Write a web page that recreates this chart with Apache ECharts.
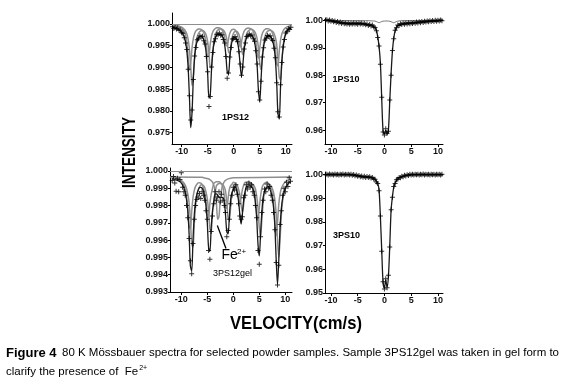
<!DOCTYPE html>
<html><head><meta charset="utf-8">
<script src="https://cdn.jsdelivr.net/npm/echarts@6/dist/echarts.min.js"></script>
<style>html,body{margin:0;padding:0;background:#fff;}#c{width:565px;height:388px;}</style>
</head><body><div id="c"></div>
<script>
// ---- data (velocity in cm/s as labelled, intensity relative) ----
const velocity = [-11.75,-11.5,-11.25,-11,-10.75,-10.5,-10.25,-10,-9.75,-9.5,-9.25,-9,-8.75,-8.5,-8.25,-8,-7.75,-7.5,-7.25,-7,-6.75,-6.5,-6.25,-6,-5.75,-5.5,-5.25,-5,-4.75,-4.5,-4.25,-4,-3.75,-3.5,-3.25,-3,-2.75,-2.5,-2.25,-2,-1.75,-1.5,-1.25,-1,-0.75,-0.5,-0.25,0,0.25,0.5,0.75,1,1.25,1.5,1.75,2,2.25,2.5,2.75,3,3.25,3.5,3.75,4,4.25,4.5,4.75,5,5.25,5.5,5.75,6,6.25,6.5,6.75,7,7.25,7.5,7.75,8,8.25,8.5,8.75,9,9.25,9.5,9.75,10,10.25,10.5,10.75,11];

const data1PS12 = [.99935,.99895,.9992,.9988,.99905,.99855,.9986,.99795,.99785,.9968,
 .9956,.9941,.9896,.9835,.9779,.9802,.9872,.9926,.9946,.99635,
 .9966,.9973,.997,.99715,.9961,.9954,.9925,.989,.981,.9833,
 .9901,.9934,.9959,.9966,.9976,.9975,.9979,.9974,.9975,.9964,
 .9956,.9925,.9875,.9887,.9924,.9946,.9965,.9966,.9971,.9964,
 .9959,.9936,.9908,.9882,.9901,.9942,.9956,.9971,.9972,.9977,
 .9973,.99745,.9966,.996,.9938,.9908,.9844,.9825,.9868,.9924,
 .9945,.9963,.9967,.99735,.9971,.9973,.99655,.9962,.9944,.9922,
 .9865,.9798,.9786,.986,.9911,.9947,.9964,.9979,.9982,.9989,
 .9987,.9992];
const fit1PS12 = [.9992,.99913,.99905,.99895,.99884,.99867,.99844,.99813,.99767,.99697,
 .99583,.9938,.99,.98313,.97614,.97968,.9875,.99233,.99481,.9961,
 .99678,.9971,.99714,.99694,.99635,.9952,.9929,.98849,.98294,.98383,
 .98964,.99362,.9957,.99681,.99741,.9977,.99772,.99762,.99731,.99666,
 .99536,.9928,.98906,.98845,.99205,.99485,.99626,.9968,.99691,.99661,
 .99572,.99383,.99042,.98786,.99046,.99392,.99588,.99687,.99735,.99754,
 .99752,.99728,.99679,.99583,.99401,.99049,.98479,.98218,.98718,.99209,
 .99477,.99614,.99684,.99718,.99726,.99714,.99675,.99601,.99462,.99197,
 .98685,.9794,.97827,.98556,.99138,.99451,.9966,.9977,.9984,.9987,
 .9989,.999];
const subA1PS12 = [.9997,.9997,.99966,.99961,.99955,.99948,.99938,.99924,.99906,.99878,
 .99836,.99768,.99646,.99418,.99006,.98586,.98799,.99268,.99558,.99707,
 .99784,.99825,.99844,.99846,.99834,.99799,.9973,.99592,.99327,.98994,
 .99048,.99396,.99635,.9976,.99827,.99863,.9988,.99881,.99875,.99857,
 .99818,.9974,.99586,.99362,.99325,.99541,.99709,.99794,.99826,.99833,
 .99815,.99761,.99648,.99443,.9929,.99446,.99653,.99771,.9983,.99859,
 .9987,.99869,.99855,.99825,.99768,.99659,.99447,.99105,.98949,.99249,
 .99543,.99704,.99786,.99828,.99849,.99854,.99846,.99823,.99779,.99695,
 .99536,.99229,.98782,.98714,.99152,.99501,.99689,.99789,.99848,.99884,
 .99908,.99924];
const subB1PS12 = [.99974,.99971,.99966,.99961,.99954,.99943,.99929,.99909,.99877,.99826,
 .99735,.99563,.99254,.9894,.99099,.99451,.99668,.9978,.99838,.99869,
 .99883,.99885,.99876,.99849,.99798,.99694,.99496,.99246,.99286,.99547,
 .99726,.9982,.9987,.99897,.9991,.99911,.99906,.99892,.99863,.99805,
 .9969,.99521,.99494,.99656,.99782,.99845,.9987,.99874,.99861,.99821,
 .99736,.99582,.99467,.99584,.9974,.99828,.99873,.99894,.99903,.99902,
 .99891,.99869,.99826,.99744,.99586,.99329,.99212,.99437,.99658,.99778,
 .9984,.99871,.99887,.9989,.99885,.99867,.99834,.99771,.99652,.99422,
 .99087,.99036,.99364,.99626,.99766,.99842,.99886,.99913,.99931,.99943,
 .99952,.9996];
const baseline1PS12 = 1.000;

const data1PS10 = [1.0004,.9999,1.0003,1.0,1.0003,.9998,1.0002,.9997,1.0,.9995,
 .9998,.9993,.9996,.9991,.9994,.9989,.9993,.9988,.9991,.9987,
 .9991,.9986,.999,.9987,.9991,.9987,.999,.9986,.9991,.9987,
 .999,.9986,.9989,.9984,.9987,.9982,.9985,.998,.9983,.9976,
 .9974,.9962,.9938,.9907,.984,.972,.9593,.9582,.9605,.9588,
 .9596,.971,.98,.989,.9933,.9964,.9973,.9983,.9982,.9988,
 .9985,.999,.9986,.9991,.9987,.9992,.9988,.9992,.9989,.9993,
 .999,.9994,.9991,.9995,.9992,.9996,.9993,.9997,.9994,.9998,
 .9995,.9999,.9996,1.0,.9996,1.0001,.9997,1.0001,.9998,1.0002,
 .9999,1.0002];
const fit1PS10 = [1.0002,1.0002,1.0002,1.0001,1.0001,1.0,1.0,.9999,.9998,.9997,
 .9996,.9995,.9994,.9993,.9992,.9991,.9991,.999,.999,.9989,
 .9989,.9989,.9989,.9989,.9989,.9989,.9989,.9989,.9989,.9989,
 .9988,.9988,.9987,.9986,.9985,.9984,.9983,.9982,.9981,.9978,
 .9973,.9965,.9941,.9905,.9845,.9715,.9597,.9585,.9599,.9585,
 .96,.9705,.9806,.9888,.9936,.9962,.9975,.9981,.9984,.9986,
 .9987,.9988,.9988,.9989,.9989,.999,.999,.999,.9991,.9991,
 .9992,.9992,.9993,.9993,.9994,.9994,.9995,.9995,.9996,.9996,
 .9997,.9997,.9998,.9998,.9998,.9999,.9999,.9999,1.0,1.0,
 1.0,1.0];
const subVelocity1PS10 = [-11.1,-3,-2.5,-2,-1.75,-1.5,-1.25,-1,-0.75,-0.5,-0.25,0,0.25,0.5,0.75,1,1.25,1.5,1.75,2,2.25,2.5,3,3.5,11];
const sub1PS10 = [1.0,.99992,.99984,.99983,.99975,.9996,.99936,.9992,.99936,.9996,.99975,.99978,.99981,.99981,.99978,.9997,.99956,.99933,.99918,.99934,.9996,.99975,.99989,.99995,1.0];

const data3PS12gel = [.99945,.99968,.9993,.99882,.99958,.9988,.9995,.9999,.99905,.9988,
 .9986,.998,.9973,.9961,.9948,.99405,.9958,.9972,.998,.99835,
 .9985,.9987,.9984,.9988,.9986,.9983,.9977,.9972,.9954,.9949,
 .9965,.9974,.9981,.9988,.9983,.9985,.9988,.9982,.99865,.9983,
 .998,.9976,.9962,.99655,.9972,.9981,.9986,.99905,.9989,.9992,
 .99865,.9981,.9974,.9972,.99735,.99845,.9986,.9992,.99895,.9993,
 .99905,.9992,.9988,.9986,.998,.9973,.9954,.9946,.9962,.9976,
 .9983,.99895,.9988,.99925,.999,.9991,.9986,.9983,.9976,.9966,
 .9947,.9934,.99455,.9969,.9977,.9986,.999,.9988,.99935,.9991,
 .9996,.9994];
const fit3PS12gel = [.99954,.99952,.9995,.99948,.99946,.99942,.99937,.9993,.99919,.99902,
 .99877,.99835,.99767,.99638,.9945,.99421,.996,.99747,.99825,.99866,
 .99888,.99904,.99905,.999,.99886,.99851,.99799,.997,.99557,.99535,
 .99673,.99767,.9982,.99866,.99867,.9986,.99848,.99845,.99847,.99846,
 .99826,.99748,.99649,.99636,.9974,.99837,.99874,.99889,.99909,.99903,
 .99873,.9983,.99752,.99693,.99752,.99832,.99877,.99908,.9991,.99914,
 .99914,.99908,.99897,.99874,.99817,.99726,.99577,.99509,.99639,.99767,
 .99849,.99881,.99898,.99906,.99908,.99897,.99876,.99844,.99786,.99677,
 .99487,.99345,.99487,.99677,.99786,.99844,.99876,.99898,.99914,.99924,
 .99932,.99937];
const subA3PS12gel = [.99957,.99957,.99955,.99954,.99952,.99951,.99948,.99944,.99939,.9993,
 .99918,.99899,.99867,.99816,.9972,.99579,.99557,.99691,.99801,.9986,
 .99891,.99907,.99919,.9992,.99916,.99906,.99879,.9984,.99766,.99665,
 .9965,.99756,.99829,.99873,.99914,.99923,.99928,.99928,.99927,.99921,
 .99909,.99885,.9982,.99728,.99718,.99796,.99869,.99897,.99908,.99923,
 .99918,.99896,.99864,.99805,.99761,.99805,.99865,.99899,.99922,.99924,
 .99927,.99927,.99922,.99914,.99897,.99854,.99786,.99674,.99623,.9972,
 .99816,.99878,.99902,.99915,.99921,.99922,.99914,.99898,.99874,.99831,
 .99749,.99606,.995,.99606,.99749,.99831,.99874,.99898,.99915,.99927,
 .99934,.9994];
const subB3PS12gel = [.99958,.99957,.99956,.99955,.99952,.9995,.99946,.9994,.9993,.99917,
 .99893,.99856,.99785,.99682,.99666,.99764,.99845,.99888,.99911,.99923,
 .99931,.99932,.99929,.99922,.99902,.99874,.99819,.99745,.99734,.99812,
 .99865,.99898,.99928,.99934,.99938,.99938,.99937,.99933,.99924,.99907,
 .99859,.99791,.99784,.99841,.99895,.99915,.99923,.99934,.99931,.99914,
 .99891,.99848,.99815,.99848,.99892,.99917,.99934,.99935,.99937,.99937,
 .99934,.99928,.99915,.99884,.99834,.99752,.99714,.99786,.99856,.99901,
 .99919,.99928,.99933,.99934,.99928,.99916,.99898,.99867,.99807,.99702,
 .99624,.99702,.99807,.99867,.99898,.99916,.99928,.99937,.99942,.99947,
 .9995,.99952];
const feVelocity = [-12.2,-6,-5.5,-5,-4.5,-4,-3.75,-3.5,-3.25,-3,-2.75,-2.5,-2.25,-2,-1.75,-1.5,-1,-0.5,0,11.3];
const fe3PS12gel = [.99965,.99963,.99959,.99956,.9995,.99935,.99918,.99885,.99818,.9972,.99737,.99835,.99893,.99922,.99937,.99945,.99954,.99958,.9996,.99965];
const baseline3PS12gel = 0.99965;

const data3PS10 = [1.0002,.9998,1.0003,.9999,1.0002,.9998,1.0003,.9999,1.0001,.9998,
 1.0003,.9999,1.0002,.9998,1.0001,.9999,1.0003,.9998,1.0001,.9999,
 1.0002,.9998,1.0001,.9997,1.0,.9995,.9998,.9993,.9996,.9991,
 .9994,.9989,.9993,.9988,.9992,.9988,.9991,.9986,.9988,.9981,
 .998,.9969,.9962,.9932,.9825,.9676,.9548,.9517,.956,.9522,
 .9575,.9694,.9852,.9904,.995,.9962,.9978,.998,.9988,.9987,
 .9993,.9991,.9997,.9994,.9999,.9996,1.0001,.9998,1.0002,.9998,
 1.0001,.9999,1.0002,.9998,1.0001,.9999,1.0003,.9998,1.0001,.9999,
 1.0002,.9998,1.0001,.9999,1.0002,.9998,1.0001,.9999,1.0002,.9998,
 1.0001,.9999];
const fit3PS10 = [1,1,1,1,1,1,1,1,1,1,
 1,1,1,1,1,1,1,1,1,1,
 1,1,1,.9999,.9998,.9997,.9996,.9995,.9994,.9993,
 .9992,.9991,.9991,.999,.999,.999,.9989,.9988,.9986,.9983,
 .9979,.9972,.9963,.9935,.9822,.968,.9545,.952,.9555,.9525,
 .957,.9697,.9849,.9907,.9947,.9965,.9976,.9982,.9986,.9989,
 .9991,.9993,.9995,.9996,.9997,.9998,.9999,1,1,1,
 1,1,1,1,1,1,1,1,1,1,
 1,1,1,1,1,1,1,1,1,1,
 1,1];

// tick labels
const velocityTicks = [-10,-5,0,5,10];
const ticks1PS12 = [0.975,0.980,0.985,0.990,0.995,1.000];
const ticks1PS10 = [0.96,0.97,0.98,0.99,1.00];
const ticks3PS12gel = [0.993,0.994,0.995,0.996,0.997,0.998,0.999,1.000];
const ticks3PS10 = [0.95,0.96,0.97,0.98,0.99,1.00];

// ---- layout ----
const FF = '"Liberation Sans", Arial, sans-serif';
const panels = [
  {grid:{left:172,top:13,width:120,height:131}, xr:[-11.85,11.2], yr:[0.9724,1.0025], ticks:ticks1PS12, dec:3},
  {grid:{left:325,top:18,width:118,height:126}, xr:[-11.1,10.95], yr:[0.9549,1.0009], ticks:ticks1PS10, dec:2},
  {grid:{left:170,top:168,width:122,height:124}, xr:[-12.17,11.29], yr:[0.993,1.00017], ticks:ticks3PS12gel, dec:3},
  {grid:{left:325,top:172,width:118,height:121}, xr:[-11.1,10.95], yr:[0.95,1.0011], ticks:ticks3PS10, dec:2}
];
const axisCommon = {
  axisLine:{show:true, onZero:false, lineStyle:{color:'#000', width:1}},
  splitLine:{show:false}
};
const xAxes = panels.map((p,i)=>Object.assign({type:'value', gridIndex:i, min:p.xr[0], max:p.xr[1],
  axisTick:{show:true, customValues:velocityTicks, length:3, lineStyle:{color:'#000'}},
  axisLabel:{customValues:velocityTicks, fontSize:9, fontWeight:'bold', color:'#111', margin:3, fontFamily:FF}}, axisCommon));
const yAxes = panels.map((p,i)=>Object.assign({type:'value', gridIndex:i, min:p.yr[0], max:p.yr[1],
  axisTick:{show:true, customValues:p.ticks, length:2, lineStyle:{color:'#000'}},
  axisLabel:{customValues:p.ticks, fontSize:9, fontWeight:'bold', color:'#111', margin:2, fontFamily:FF,
    formatter:v=>Number(v).toFixed(p.dec)}}, axisCommon));

const pts = (xs, ys) => xs.map((x,i)=>[x, ys[i]]);
const PLUS = 'path://M4,0H6V10H4Z M0,4H10V6H0Z';
const grayLine = (idx, xs, ys, extra) => Object.assign({type:'line', xAxisIndex:idx, yAxisIndex:idx, data:pts(xs,ys),
  symbol:'none', smooth:0.3, silent:true, lineStyle:{color:'#8e8e8e', width:1.5}, z:1}, extra||{});
const fitLine = (idx, ys) => ({type:'line', xAxisIndex:idx, yAxisIndex:idx, data:pts(velocity,ys),
  symbol:'none', smooth:0.3, silent:true, lineStyle:{color:'#1a1a1a', width:1.3}, z:2});
const dataPts = (idx, ys) => ({type:'scatter', xAxisIndex:idx, yAxisIndex:idx, data:pts(velocity,ys),
  symbol:PLUS, symbolSize:5, itemStyle:{color:'#000'}, silent:true, z:3});
const baseMark = v => ({silent:true, symbol:'none', label:{show:false}, lineStyle:{color:'#8e8e8e', width:1, type:'solid'}, data:[{yAxis:v}]});

const series = [
  grayLine(0, velocity, subA1PS12, {markLine: baseMark(baseline1PS12)}),
  grayLine(0, velocity, subB1PS12),
  fitLine(0, fit1PS12), dataPts(0, data1PS12),
  grayLine(1, subVelocity1PS10, sub1PS10, {lineStyle:{color:'#555', width:0.8}}),
  fitLine(1, fit1PS10), dataPts(1, data1PS10),
  grayLine(2, velocity, subA3PS12gel, {markLine: baseMark(baseline3PS12gel)}),
  grayLine(2, velocity, subB3PS12gel),
  grayLine(2, feVelocity, fe3PS12gel),
  fitLine(2, fit3PS12gel), dataPts(2, data3PS12gel),
  fitLine(3, fit3PS10), dataPts(3, data3PS10)
];

// ---- text ----
const ctx = document.createElement('canvas').getContext('2d');
const measure = (t, f) => { ctx.font = f; return ctx.measureText(t).width; };
const fBig = 'bold 19px "Liberation Sans"';
const cap1a = 'Figure 4';
const cap1b = '80 K Mössbauer spectra for selected powder samples. Sample 3PS12gel was taken in gel form to';
const cap2 = 'clarify the presence of  Fe';
const fCapB = 'bold 13px "Liberation Sans"';
const fCap = '11px "Liberation Sans"';
const capScale = (559 - 62) / measure(cap1b, fCap);
const cap2End = 6 + measure(cap2, fCap) * capScale;
const T = (x, y, text, font, extra, style) => Object.assign({type:'text', x, y, silent:true,
  style:Object.assign({text, font, fill:'#000', align:'center', verticalAlign:'middle', textAlign:'center', textVerticalAlign:'middle'}, style||{})}, extra||{});
const graphic = [
  T(130, 152.5, 'INTENSITY', fBig, {rotation:Math.PI/2, scaleX: 71/measure('INTENSITY', fBig)}),
  T(296, 324, 'VELOCITY(cm/s)', fBig, {scaleX: 132/measure('VELOCITY(cm/s)', fBig)}),
  T(235.5, 118, '1PS12', 'bold 9px "Liberation Sans"'),
  T(346, 80, '1PS10', 'bold 9px "Liberation Sans"'),
  T(232.5, 273.5, '3PS12gel', '9px "Liberation Sans"'),
  T(346.5, 236, '3PS10', 'bold 9px "Liberation Sans"'),
  T(221.5, 255.5, 'Fe', '14px "Liberation Sans"', null, {align:'left', textAlign:'left'}),
  T(237, 251.5, '2+', '8px "Liberation Sans"', null, {align:'left', textAlign:'left'}),
  {type:'line', silent:true, shape:{x1:226, y1:248.5, x2:217.3, y2:225.5}, style:{stroke:'#000', lineWidth:1.3}},
  T(6, 353, cap1a, fCapB, null, {align:'left', textAlign:'left'}),
  T(62, 353, cap1b, fCap, {scaleX: capScale}, {align:'left', textAlign:'left'}),
  T(6, 372, cap2, fCap, {scaleX: capScale}, {align:'left', textAlign:'left'}),
  T(cap2End + 1, 368, '2+', '7px "Liberation Sans"', null, {align:'left', textAlign:'left'})
];

const chart = echarts.init(document.getElementById('c'), null, {renderer:'canvas'});
chart.setOption({
  animation:false, backgroundColor:'#fff',
  grid: panels.map(p=>Object.assign({containLabel:false}, p.grid)),
  xAxis: xAxes, yAxis: yAxes, series, graphic
});
</script></body></html>
